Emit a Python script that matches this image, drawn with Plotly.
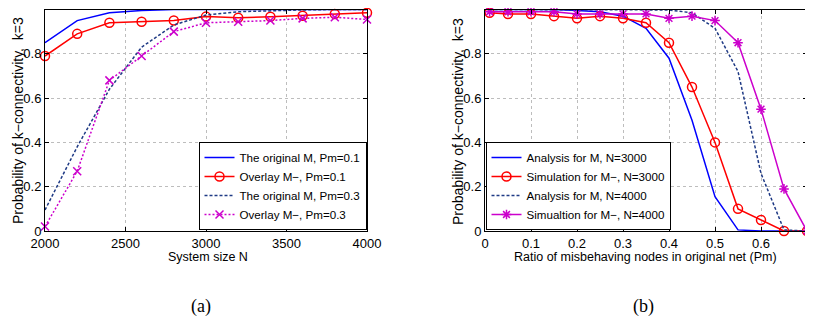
import plotly.graph_objects as go

# ---- data: panel (a) ----
sys_size_N = [2000, 2200, 2400, 2600, 2800, 3000, 3200, 3400, 3600, 3800, 4000]
orig_pm01 = [0.85, 0.95, 0.985, 0.995, 1.0, 1.0, 1.0, 1.0, 1.0, 1.0, 1.0]
overlay_pm01 = [0.79, 0.89, 0.94, 0.945, 0.95, 0.968, 0.963, 0.967, 0.972, 0.98, 0.985]
orig_pm03 = [0.095, 0.38, 0.64, 0.83, 0.93, 0.975, 0.99, 0.995, 0.998, 1.0, 1.0]
overlay_pm03 = [0.02, 0.27, 0.68, 0.79, 0.90, 0.94, 0.945, 0.95, 0.96, 0.965, 0.955]

# ---- data: panel (b) ----
pm_ratio = [0.01, 0.05, 0.1, 0.15, 0.2, 0.25, 0.3, 0.35, 0.4, 0.45, 0.5, 0.55, 0.6, 0.65, 0.7]
analysis_3000 = [1.0, 1.0, 1.0, 1.0, 0.995, 0.99, 0.97, 0.915, 0.78, 0.5, 0.155, 0.005, 0.0, 0.0, 0.0]
sim_3000 = [0.985, 0.98, 0.98, 0.97, 0.96, 0.97, 0.96, 0.94, 0.85, 0.65, 0.40, 0.10, 0.05, 0.0, 0.0]
analysis_4000 = [1.0, 1.0, 1.0, 1.0, 1.0, 1.0, 1.0, 1.0, 0.998, 0.985, 0.915, 0.72, 0.26, 0.005, 0.0]
sim_4000 = [0.99, 0.99, 0.99, 0.99, 0.98, 0.98, 0.98, 0.98, 0.96, 0.97, 0.95, 0.85, 0.55, 0.19, 0.0]

xticks_a = [2000, 2500, 3000, 3500, 4000]
xticks_b = [0, 0.1, 0.2, 0.3, 0.4, 0.5, 0.6, 0.7]
yticks = [0, 0.2, 0.4, 0.6, 0.8, 1]
ytick_text = ["0", "0.2", "0.4", "0.6", "0.8", "1"]

BLUE = "#0000ff"
RED = "#ff0000"
NAVY = "#1f3a85"
MAG = "#cc00cc"

# page body has an 8px margin: lay the figure out in screen pixels minus that offset
OFF = 8
W, H = 813 - OFF, 329 - OFF


def px(x):
    return (x - OFF) / W


def py(y):
    return 1 - (y - OFF) / H


fig = go.Figure()

# panel (a)
fig.add_trace(go.Scatter(x=sys_size_N, y=orig_pm01, mode="lines", name="The original M, Pm=0.1",
                         line=dict(color=BLUE, width=1.5), xaxis="x", yaxis="y", legend="legend", cliponaxis=False))
fig.add_trace(go.Scatter(x=sys_size_N, y=overlay_pm01, mode="lines+markers", name="Overlay M\u2212, Pm=0.1",
                         line=dict(color=RED, width=1.5), marker=dict(symbol="circle-open", size=9, color=RED, line=dict(width=1.5)),
                         xaxis="x", yaxis="y", legend="legend", cliponaxis=False))
fig.add_trace(go.Scatter(x=sys_size_N, y=orig_pm03, mode="lines", name="The original M, Pm=0.3",
                         line=dict(color=NAVY, width=1.5, dash="3px,2px"), xaxis="x", yaxis="y", legend="legend", cliponaxis=False))
fig.add_trace(go.Scatter(x=sys_size_N, y=overlay_pm03, mode="lines+markers", name="Overlay M\u2212, Pm=0.3",
                         line=dict(color=MAG, width=1.5, dash="2px,2px"), marker=dict(symbol="x-thin-open", size=8, color=MAG, line=dict(width=1.5, color=MAG)),
                         xaxis="x", yaxis="y", legend="legend", cliponaxis=False))

# panel (b)
fig.add_trace(go.Scatter(x=pm_ratio, y=analysis_3000, mode="lines", name="Analysis for M, N=3000",
                         line=dict(color=BLUE, width=1.5), xaxis="x2", yaxis="y2", legend="legend2", cliponaxis=False))
fig.add_trace(go.Scatter(x=pm_ratio, y=sim_3000, mode="lines+markers", name="Simulation for M\u2212, N=3000",
                         line=dict(color=RED, width=1.5), marker=dict(symbol="circle-open", size=9, color=RED, line=dict(width=1.5)),
                         xaxis="x2", yaxis="y2", legend="legend2", cliponaxis=False))
fig.add_trace(go.Scatter(x=pm_ratio, y=analysis_4000, mode="lines", name="Analysis for M, N=4000",
                         line=dict(color=NAVY, width=1.5, dash="3px,2px"), xaxis="x2", yaxis="y2", legend="legend2", cliponaxis=False))
fig.add_trace(go.Scatter(x=pm_ratio, y=sim_4000, mode="lines+markers", name="Simualtion for M\u2212, N=4000",
                         line=dict(color=MAG, width=1.5), marker=dict(symbol="asterisk-open", size=8, color=MAG, line=dict(width=1.5, color=MAG)),
                         xaxis="x2", yaxis="y2", legend="legend2", cliponaxis=False))

TICKFONT = dict(family="Liberation Sans, Arial, sans-serif", size=13, color="black")
ax_common = dict(showline=True, linecolor="black", linewidth=1, mirror="allticks", ticks="inside", ticklen=4,
                 tickcolor="black", showgrid=True, gridcolor="#bdbdbd", griddash="dot", gridwidth=1,
                 zeroline=False, tickfont=TICKFONT, automargin=False)

LEGFONT = dict(family="Liberation Sans, Arial, sans-serif", size=11.6, color="black")
fig.update_layout(
    width=W, height=H, margin=dict(l=0, r=0, t=0, b=0),
    paper_bgcolor="white", plot_bgcolor="white",
    xaxis=dict(domain=[px(45), px(367)], range=[2000, 4000], tickvals=xticks_a, anchor="y", **ax_common),
    yaxis=dict(domain=[py(231), py(9.5)], range=[0, 1], tickvals=yticks, ticktext=ytick_text, anchor="x", **ax_common),
    xaxis2=dict(domain=[px(485), px(807)], range=[0, 0.7], tickvals=xticks_b, anchor="y2", **ax_common),
    yaxis2=dict(domain=[py(231), py(9.5)], range=[0, 1], tickvals=yticks, ticktext=ytick_text, anchor="x2", **ax_common),
    legend=dict(x=px(366.5), xanchor="right", y=py(230), yanchor="bottom", bgcolor="white",
                bordercolor="black", borderwidth=1, font=LEGFONT, itemwidth=30, tracegroupgap=0),
    legend2=dict(x=px(485.5), xanchor="left", y=py(230), yanchor="bottom", bgcolor="white",
                 bordercolor="black", borderwidth=1, font=LEGFONT, itemwidth=30, tracegroupgap=0),
    showlegend=True,
)

AXFONT = dict(family="Liberation Sans, Arial, sans-serif", size=12.5, color="black")
YFONT = dict(family="Liberation Sans, Arial, sans-serif", size=14, color="black")
fig.add_annotation(text="System size N", x=px(208), y=py(257), xref="paper", yref="paper",
                   showarrow=False, font=AXFONT, xanchor="center", yanchor="middle")
fig.add_annotation(text="Ratio of misbehaving nodes in original net (Pm)", x=px(645), y=py(257), xref="paper", yref="paper",
                   showarrow=False, font=AXFONT, xanchor="center", yanchor="middle")
fig.add_annotation(text="Probability of k\u2212connectivity,  k=3", x=px(18), y=py(121), xref="paper", yref="paper",
                   showarrow=False, font=YFONT, textangle=-90, xanchor="center", yanchor="middle")
fig.add_annotation(text="Probability of k\u2212connectivity,  k=3", x=px(458), y=py(121), xref="paper", yref="paper",
                   showarrow=False, font=YFONT, textangle=-90, xanchor="center", yanchor="middle")

SERIF = dict(family="Liberation Serif, DejaVu Serif, serif", size=18, color="black")
fig.add_annotation(text="(a)", x=px(201), y=py(306), xref="paper", yref="paper",
                   showarrow=False, font=SERIF, xanchor="center", yanchor="middle")
fig.add_annotation(text="(b)", x=px(643), y=py(306), xref="paper", yref="paper",
                   showarrow=False, font=SERIF, xanchor="center", yanchor="middle")

fig.write_html("out.html")
